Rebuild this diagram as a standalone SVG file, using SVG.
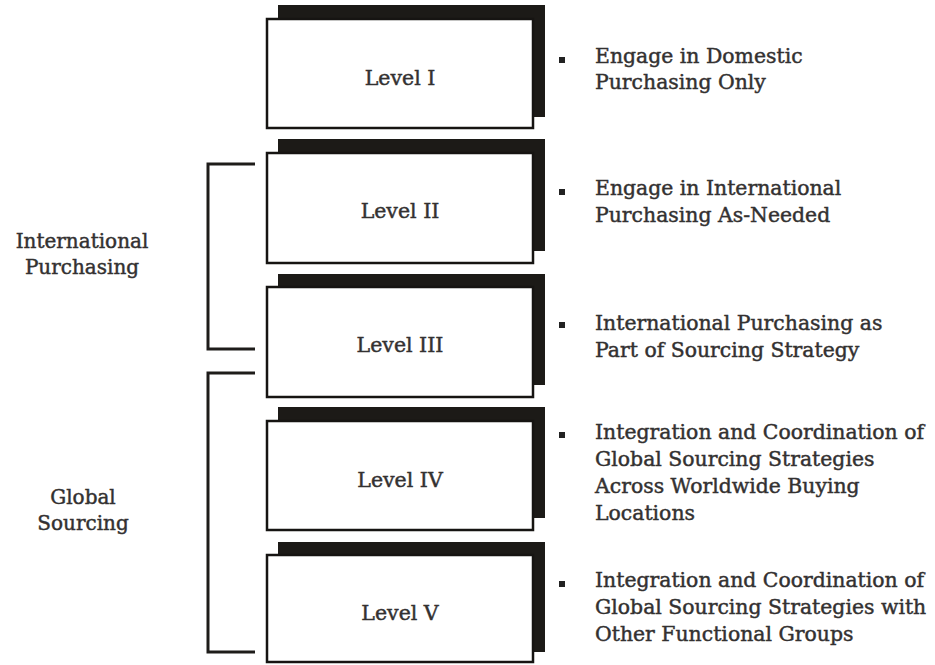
<svg xmlns="http://www.w3.org/2000/svg" width="935" height="665" viewBox="0 0 935 665">
  <style>
    .shadow { fill: #1c1a17; }
    .box { fill: #ffffff; stroke: #161412; stroke-width: 2.5; }
    .lbl, .txt, .grp { font-family: "DejaVu Serif", "Liberation Serif", serif; fill: #333131; stroke: #333131; stroke-width: 0.45; }
    .lbl { font-size: 20.5px; text-anchor: middle; }
    .txt { font-size: 20.4px; }
    .grp { font-size: 20px; text-anchor: middle; }
    .brk { fill: none; stroke: #1e1c1a; stroke-width: 3; }
    .bul { fill: #222; }
  </style>
  <rect width="935" height="665" fill="#ffffff"/>

  <!-- group brackets -->
  <g id="connectors">
    <path class="brk" d="M255,164 H208 V349 H255"/>
    <path class="brk" d="M255,373 H208 V652 H255"/>
  </g>

  <g id="group-international">
    <text class="grp" x="82" y="248">International</text>
    <text class="grp" x="82" y="274">Purchasing</text>
  </g>
  <g id="group-global">
    <text class="grp" x="83" y="504">Global</text>
    <text class="grp" x="83" y="530">Sourcing</text>
  </g>

  <!-- level boxes: dark backing slab offset up/right, white face on top -->
  <g id="level-1">
    <rect class="shadow" x="278" y="5" width="267" height="112"/>
    <rect class="box" x="267" y="19" width="266" height="109"/>
    <text class="lbl" x="400" y="85">Level I</text>
  </g>
  <g id="level-2">
    <rect class="shadow" x="278" y="139" width="267" height="112"/>
    <rect class="box" x="267" y="153" width="266" height="110"/>
    <text class="lbl" x="400" y="218">Level II</text>
  </g>
  <g id="level-3">
    <rect class="shadow" x="278" y="274" width="267" height="111"/>
    <rect class="box" x="267" y="287" width="266" height="110"/>
    <text class="lbl" x="400" y="352">Level III</text>
  </g>
  <g id="level-4">
    <rect class="shadow" x="278" y="407" width="267" height="111"/>
    <rect class="box" x="267" y="421" width="266" height="109"/>
    <text class="lbl" x="400" y="487">Level IV</text>
  </g>
  <g id="level-5">
    <rect class="shadow" x="278" y="542" width="267" height="110"/>
    <rect class="box" x="267" y="555" width="266" height="107"/>
    <text class="lbl" x="400" y="620">Level V</text>
  </g>

  <!-- descriptions -->
  <g id="desc-1">
    <rect class="bul" x="559" y="57" width="6" height="6"/>
    <text class="txt" x="595" y="63">Engage in Domestic</text>
    <text class="txt" x="595" y="89">Purchasing Only</text>
  </g>
  <g id="desc-2">
    <rect class="bul" x="559" y="189" width="6" height="6"/>
    <text class="txt" x="595" y="195">Engage in International</text>
    <text class="txt" x="595" y="222">Purchasing As-Needed</text>
  </g>
  <g id="desc-3">
    <rect class="bul" x="559" y="322" width="6" height="6"/>
    <text class="txt" x="595" y="330">International Purchasing as</text>
    <text class="txt" x="595" y="357">Part of Sourcing Strategy</text>
  </g>
  <g id="desc-4">
    <rect class="bul" x="559" y="432" width="6" height="6"/>
    <text class="txt" x="595" y="439">Integration and Coordination of</text>
    <text class="txt" x="595" y="466">Global Sourcing Strategies</text>
    <text class="txt" x="595" y="493">Across Worldwide Buying</text>
    <text class="txt" x="595" y="520">Locations</text>
  </g>
  <g id="desc-5">
    <rect class="bul" x="559" y="581" width="6" height="6"/>
    <text class="txt" x="595" y="587">Integration and Coordination of</text>
    <text class="txt" x="595" y="614">Global Sourcing Strategies with</text>
    <text class="txt" x="595" y="641">Other Functional Groups</text>
  </g>
</svg>
